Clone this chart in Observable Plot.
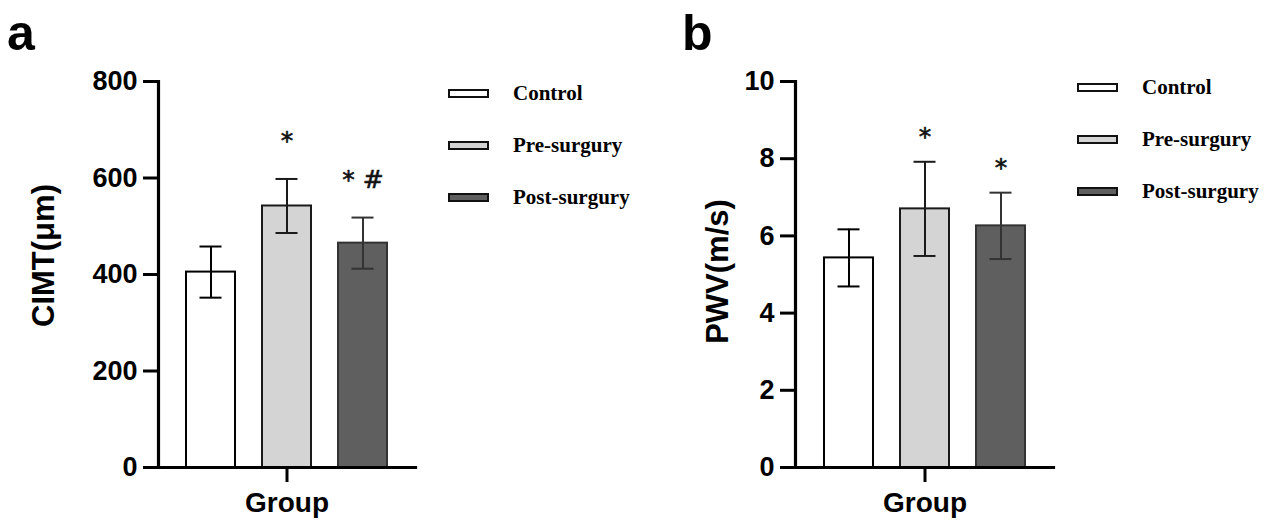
<!DOCTYPE html>
<html>
<head>
<meta charset="utf-8">
<script src="https://cdn.jsdelivr.net/npm/d3@7"></script>
<script src="https://cdn.jsdelivr.net/npm/@observablehq/plot@0.6"></script>
<style>
  html, body { margin: 0; padding: 0; background: #fff; }
  #wrap { position: relative; width: 1266px; height: 521px; display: flex; }
  .panel { position: relative; width: 633px; height: 521px; }
  .panel svg { display: block; color: #000; background: #fff; }
  .letter { position: absolute; font-family: "Liberation Sans", Arial, sans-serif; font-weight: bold; font-size: 50px; line-height: 1; color: #000; }
  .legend { position: absolute; font-family: "Liberation Serif", "Times New Roman", serif; font-weight: bold; font-size: 21px; color: #000; }
  .legend .row { display: flex; align-items: center; height: 52px; }
  .legend .sw { width: 37px; height: 5px; border: 2px solid #111; margin-right: 24px; }
</style>
</head>
<body>
<div id="wrap"></div>
<script>
const groups = ["Control", "Pre-surgury", "Post-surgury"];
const fills = ["#ffffff", "#d4d4d4", "#5f5f5f"];
const strokes = ["#000000", "#1a1a1a", "#333333"];

// Panel a: CIMT (μm)
const cimtMean = [405, 542, 465];
const cimtSD = [53, 56, 53];
const cimtMarks = ["", "*", "* #"];
const cimtTicks = [0, 200, 400, 600, 800];

// Panel b: PWV (m/s)
const pwvMean = [5.43, 6.70, 6.26];
const pwvSD = [0.74, 1.22, 0.86];
const pwvMarks = ["", "*", "*"];
const pwvTicks = [0, 2, 4, 6, 8, 10];

function panel({mean, sd, marks, ticks, domain, title, marginLeft, marginRight, titleDx, titleDy, starDy, letter, letterLeft, legendLeft, legendTop}) {
  const data = groups.map((g, i) => ({group: g, mean: mean[i], lo: mean[i] - sd[i], hi: mean[i] + sd[i], mark: marks[i], fill: fills[i], stroke: strokes[i]}));
  const font = "Liberation Sans, Arial, sans-serif";
  const chart = Plot.plot({
    width: 633,
    height: 521,
    marginLeft,
    marginRight,
    marginTop: 81,
    marginBottom: 54,
    style: {fontFamily: font, color: "#000", background: "#fff", overflow: "visible"},
    x: {domain: groups, paddingInner: 0.36, paddingOuter: 0.36},
    y: {domain},
    marks: [
      Plot.barY(data, {x: "group", y: "mean", fill: "fill", stroke: "stroke", strokeWidth: 2}),
      Plot.ruleX(data, {x: "group", y1: "lo", y2: "hi", stroke: "stroke", strokeWidth: 2}),
      Plot.tickY(data, {x: "group", y: "hi", stroke: "stroke", strokeWidth: 2, insetLeft: 13.5, insetRight: 13.5}),
      Plot.tickY(data, {x: "group", y: "lo", stroke: "stroke", strokeWidth: 2, insetLeft: 13.5, insetRight: 13.5}),
      Plot.text(data, {x: "group", y: "hi", text: "mark", dy: starDy, lineAnchor: "middle", fontSize: 25, fill: "#111", stroke: "#111", strokeWidth: 0.6, fontFamily: "DejaVu Sans, sans-serif"}),
      Plot.axisY(ticks, {tickSize: 15, tickPadding: 6, strokeWidth: 3, fontSize: 27, fontWeight: "bold", label: null}),
      Plot.axisX([groups[1]], {tickSize: 15, tickPadding: 10, strokeWidth: 3, fontSize: 28, fontWeight: "bold", tickFormat: () => "Group", label: null}),
      Plot.frame({anchor: "left", strokeWidth: 3.2, strokeLinecap: "square"}),
      Plot.frame({anchor: "bottom", strokeWidth: 3.2, strokeLinecap: "square"}),
      Plot.text([title], {frameAnchor: "left", dx: titleDx, dy: titleDy, rotate: -90, fontSize: 31, fontWeight: "bold", fill: "#000", textAnchor: "middle"})
    ]
  });
  const div = document.createElement("div");
  div.className = "panel";
  div.appendChild(chart);
  const l = document.createElement("div");
  l.className = "letter";
  l.style.left = letterLeft + "px";
  l.style.top = "8px";
  l.textContent = letter;
  div.appendChild(l);
  const lg = document.createElement("div");
  lg.className = "legend";
  lg.style.left = legendLeft + "px";
  lg.style.top = legendTop + "px";
  groups.forEach((g, i) => {
    const row = document.createElement("div");
    row.className = "row";
    const sw = document.createElement("div");
    sw.className = "sw";
    sw.style.background = fills[i];
    const t = document.createElement("span");
    t.textContent = g;
    row.appendChild(sw);
    row.appendChild(t);
    lg.appendChild(row);
  });
  div.appendChild(lg);
  return div;
}

const wrap = document.getElementById("wrap");
wrap.appendChild(panel({mean: cimtMean, sd: cimtSD, marks: cimtMarks, ticks: cimtTicks, domain: [0, 800], title: "CIMT(μm)", marginLeft: 158, marginRight: 218, titleDx: -114, titleDy: -19, starDy: -38, letter: "a", letterLeft: 7, legendLeft: 448, legendTop: 67}));
wrap.appendChild(panel({mean: pwvMean, sd: pwvSD, marks: pwvMarks, ticks: pwvTicks, domain: [0, 10], title: "PWV(m/s)", marginLeft: 162, marginRight: 213, titleDx: -77, titleDy: -3, starDy: -25, letter: "b", letterLeft: 49, legendLeft: 444, legendTop: 61}));
</script>
</body>
</html>
